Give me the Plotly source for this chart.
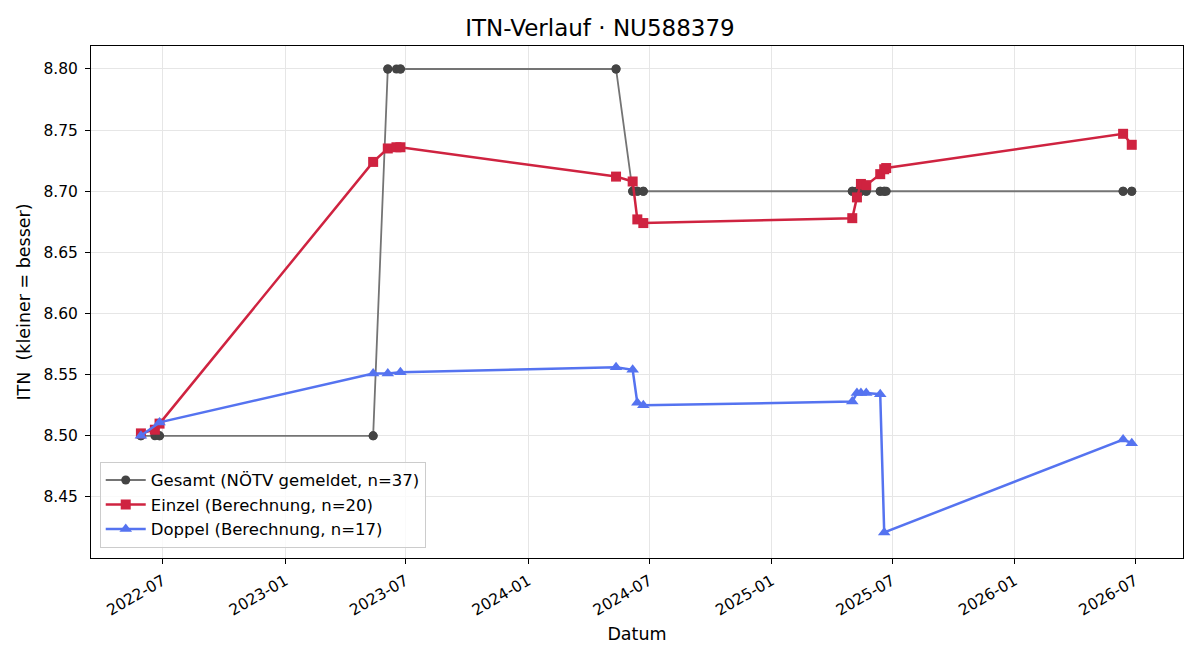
import plotly.graph_objects as go

# ---- data ----
einzel_dates = ["2022-05-29", "2022-06-19", "2022-06-26", "2023-05-13", "2023-06-04",
                "2023-06-17", "2023-06-23", "2024-05-12", "2024-06-06", "2024-06-13",
                "2024-06-22", "2025-05-02", "2025-05-09", "2025-05-15", "2025-05-23",
                "2025-06-13", "2025-06-19", "2025-06-22", "2026-06-13", "2026-06-26"]
einzel_itn = [8.502, 8.505, 8.510, 8.724, 8.735,
              8.736, 8.736, 8.712, 8.708, 8.677,
              8.674, 8.678, 8.695, 8.706, 8.705,
              8.714, 8.718, 8.719, 8.747, 8.738]

doppel_dates = ["2022-05-29", "2022-06-26", "2023-05-13", "2023-06-04", "2023-06-23",
                "2024-05-12", "2024-06-06", "2024-06-13", "2024-06-22", "2025-05-02",
                "2025-05-09", "2025-05-15", "2025-05-23", "2025-06-13", "2025-06-19",
                "2026-06-13", "2026-06-26"]
doppel_itn = [8.500, 8.511, 8.551, 8.551, 8.552,
              8.556, 8.554, 8.527, 8.525, 8.528,
              8.535, 8.535, 8.535, 8.534, 8.421,
              8.497, 8.494]

gesamt_dates = sorted(einzel_dates + doppel_dates)
gesamt_levels = [("2023-05-31", 8.50), ("2024-05-31", 8.80), ("2099-12-31", 8.70)]
gesamt_itn = []
for d in gesamt_dates:
    for lim, v in gesamt_levels:
        if d <= lim:
            gesamt_itn.append(v)
            break

x_ticks = ["2022-07-01", "2023-01-01", "2023-07-01", "2024-01-01", "2024-07-01",
           "2025-01-01", "2025-07-01", "2026-01-01", "2026-07-01"]
x_ticklabels = ["2022-07", "2023-01", "2023-07", "2024-01", "2024-07",
                "2025-01", "2025-07", "2026-01", "2026-07"]
y_ticks = [8.45, 8.50, 8.55, 8.60, 8.65, 8.70, 8.75, 8.80]

FONT = "DejaVu Sans"

fig = go.Figure()
fig.add_trace(go.Scatter(
    x=gesamt_dates, y=gesamt_itn, mode="lines+markers",
    name="Gesamt (NÖTV gemeldet, n=37)", legendgroup="g",
    line=dict(color="#747474", width=1.8),
    marker=dict(symbol="circle", size=9, color="#444444"),
))
fig.add_trace(go.Scatter(
    x=einzel_dates, y=einzel_itn, mode="lines+markers",
    name="Einzel (Berechnung, n=20)", legendgroup="e",
    line=dict(color="#cf2340", width=2.5),
    marker=dict(symbol="square", size=10, color="#cf2340"),
))
fig.add_trace(go.Scatter(
    x=doppel_dates, y=doppel_itn, mode="lines+markers",
    name="Doppel (Berechnung, n=17)", legendgroup="d",
    line=dict(color="#5573f0", width=2.5),
    marker=dict(symbol="triangle-up", size=11, color="#5573f0"),
))

axis_common = dict(
    showline=True, linecolor="black", linewidth=1, mirror=True,
    ticks="outside", ticklen=5, tickcolor="black",
    showgrid=True, gridcolor="#e6e6e6", gridwidth=1, zeroline=False,
    tickfont=dict(family=FONT, size=15.5, color="black"),
)

fig.update_layout(
    width=1200, height=660,
    paper_bgcolor="white", plot_bgcolor="white",
    margin=dict(l=91, r=17, t=46, b=102),
    font=dict(family=FONT, color="black"),
    title=dict(text="ITN-Verlauf · NU588379", x=0.5, xanchor="center",
               y=1 - 28 / 660, yanchor="middle",
               font=dict(family=FONT, size=23, color="black")),
    xaxis=dict(
        **axis_common,
        type="date", range=["2022-03-15", "2026-09-11"],
        tickvals=x_ticks, ticktext=x_ticklabels, tickangle=-30,
        ticklabelstandoff=2,
        title=dict(text="Datum", font=dict(family=FONT, size=17.5), standoff=9),
    ),
    yaxis=dict(
        **axis_common,
        range=[8.4001, 8.8188], tickvals=y_ticks, tickformat=".2f",
        ticklabelstandoff=4,
        title=dict(text="ITN  (kleiner = besser)", font=dict(family=FONT, size=17.5), standoff=8),
    ),
    legend=dict(
        x=0.008, y=0.02, xanchor="left", yanchor="bottom",
        bgcolor="rgba(255,255,255,0.8)", bordercolor="#cccccc", borderwidth=1,
        font=dict(family=FONT, size=16.5, color="black"),
        tracegroupgap=3, traceorder="normal", itemwidth=40,
    ),
    showlegend=True,
)

fig.write_html("out.html")
